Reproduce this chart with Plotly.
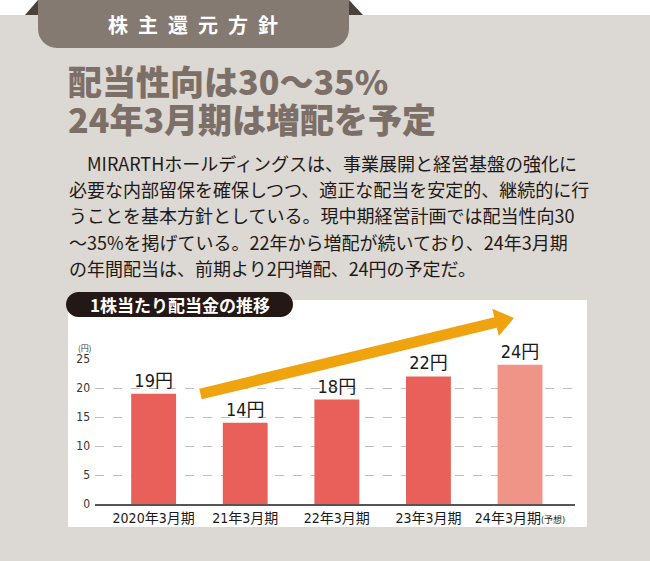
import math
import plotly.graph_objects as go

# data
categories = ["2020年3月期", "21年3月期", "22年3月期", "23年3月期", "24年3月期"]
forecast_note = "(予想)"
dividends = [19, 14, 18, 22, 24]
bar_labels = ["19円", "14円", "18円", "22円", "24円"]
y_ticks = [0, 5, 10, 15, 20, 25]

tab_title = "\u2002".join("株主還元方針")
title_lines = ["配当性向は30〜35%", "24年3月期は増配を予定"]
body_lines = [
    "\u3000MIRARTHホールディングスは、事業展開と経営基盤の強化に",
    "必要な内部留保を確保しつつ、適正な配当を安定的、継続的に行",
    "うことを基本方針としている。現中期経営計画では配当性向30",
    "〜35%を掲げている。22年から増配が続いており、24年3月期",
    "の年間配当は、前期より2円増配、24円の予定だ。",
]
chart_title = "1株当たり配当金の推移"

W, H = 650, 561
JP = "Noto Sans CJK JP"
NARROW = "DejaVu Sans Condensed, Noto Sans CJK JP"


def px(x):
    return x / W


def py(y):
    return 1 - y / H


def path(points):
    s = "M " + " L ".join(f"{px(x):.5f},{py(y):.5f}" for x, y in points)
    return s + " Z"


def rounded(x0, y0, x1, y1, r, corners=(1, 1, 1, 1)):
    # corners: top-left, top-right, bottom-right, bottom-left
    k = 0.5523 * r
    tl, tr, br, bl = [r if c else 0 for c in corners]
    P = lambda x, y: f"{px(x):.5f},{py(y):.5f}"
    s = f"M {P(x0 + tl, y0)} L {P(x1 - tr, y0)}"
    if tr:
        s += f" C {P(x1 - tr + k, y0)} {P(x1, y0 + tr - k)} {P(x1, y0 + tr)}"
    s += f" L {P(x1, y1 - br)}"
    if br:
        s += f" C {P(x1, y1 - br + k)} {P(x1 - br + k, y1)} {P(x1 - br, y1)}"
    s += f" L {P(x0 + bl, y1)}"
    if bl:
        s += f" C {P(x0 + bl - k, y1)} {P(x0, y1 - bl + k)} {P(x0, y1 - bl)}"
    s += f" L {P(x0, y0 + tl)}"
    if tl:
        s += f" C {P(x0, y0 + tl - k)} {P(x0 + tl - k, y0)} {P(x0 + tl, y0)}"
    return s + " Z"


colors = ["#e95f59"] * 4 + ["#ef9487"]
ticktext = categories[:-1] + [categories[-1] + f"<span style='font-size:9px'>{forecast_note}</span>"]

fig = go.Figure(go.Bar(
    x=list(range(len(categories))), y=dividends,
    width=0.49, marker=dict(color=colors, line_width=0),
    text=bar_labels, textposition="outside", cliponaxis=False,
    textfont=dict(family=NARROW, size=18, color="#1a1a1a"),
    hoverinfo="skip",
))

# arrow polygon
sx, sy, tx, ty = 200.5, 394, 514, 318
L = math.hypot(tx - sx, ty - sy)
dx, dy = (tx - sx) / L, (ty - sy) / L
nx, ny = -dy, dx
hl, hh, hw = 19, 14, 5.5
bx, by = tx - hl * dx, ty - hl * dy
arrow = [
    (sx + nx * hw, sy + ny * hw), (bx + nx * hw, by + ny * hw), (bx + nx * hh, by + ny * hh),
    (tx, ty),
    (bx - nx * hh, by - ny * hh), (bx - nx * hw, by - ny * hw), (sx - nx * hw, sy - ny * hw),
]

shapes = [
    dict(type="rect", xref="paper", yref="paper", x0=0, x1=1, y0=0, y1=py(15),
         fillcolor="#dcd8d3", line_width=0, layer="below"),
    dict(type="path", xref="paper", yref="paper", path=path([(25, 15), (38, 0), (38, 15)]),
         fillcolor="#4b413c", line_width=0, layer="below"),
    dict(type="path", xref="paper", yref="paper", path=path([(349, 0), (363, 15), (349, 15)]),
         fillcolor="#4b413c", line_width=0, layer="below"),
    dict(type="path", xref="paper", yref="paper", path=rounded(38, 0, 349, 48, 19, (0, 0, 1, 1)),
         fillcolor="#857a72", line_width=0, layer="below"),
    dict(type="rect", xref="paper", yref="paper", x0=px(68), x1=px(587), y0=py(527), y1=py(300),
         fillcolor="white", line_width=0, layer="below"),
    dict(type="path", xref="paper", yref="paper", path=rounded(66, 292, 293, 317, 12.5),
         fillcolor="#231815", line_width=0, layer="below"),
    dict(type="path", xref="paper", yref="paper", path=path(arrow),
         fillcolor="#efa30f", line_width=0, layer="above"),
]

# two title lines in one block: base font sets the line pitch, spans set glyph size
title_text = "<br>".join(f"<span style='font-size:34px'>{t}</span>" for t in title_lines)

annotations = [
    dict(text=tab_title, x=px(193), y=py(25), font=dict(family=JP, size=20, color="white", weight=700)),
    dict(text="(円)", x=px(84), y=py(347), font=dict(family=JP, size=8, color="#333")),
    dict(text=title_text, x=px(66), y=py(99), xanchor="left", align="left",
         font=dict(family=JP, size=29.3, color="#7b6f67", weight=900)),
]
for i, t in enumerate(body_lines):
    annotations.append(dict(text=t, x=px(67), y=py(163 + 26.2 * i), xanchor="left",
                            font=dict(family=JP, size=18, color="#231815")))
annotations.append(dict(text=chart_title, x=px(88), y=py(304), xanchor="left",
                        font=dict(family=JP, size=17, color="white", weight=700)))
for a in annotations:
    a.setdefault("xanchor", "center")
    a.update(xref="paper", yref="paper", yanchor="middle", showarrow=False)

fig.update_layout(
    width=W, height=H, autosize=False,
    margin=dict(l=0, r=0, t=0, b=0, pad=0, autoexpand=False),
    paper_bgcolor="white", plot_bgcolor="rgba(0,0,0,0)",
    showlegend=False, shapes=shapes, annotations=annotations,
    xaxis=dict(domain=[px(95), px(575)], range=[-0.64, 4.6], automargin=False,
               tickmode="array", tickvals=list(range(len(categories))), ticktext=ticktext,
               tickfont=dict(family=NARROW, size=14, color="#1a1a1a"),
               showline=True, linecolor="#555", linewidth=1.5, showgrid=False,
               ticks="", fixedrange=True),
    yaxis=dict(domain=[py(504), py(359)], range=[0, 25], automargin=False,
               tickmode="array", tickvals=y_ticks,
               tickfont=dict(family=NARROW, size=12, color="#333"),
               showgrid=True, gridcolor="#bdbdbd", griddash="dash", gridwidth=1,
               zeroline=False, showline=False, ticks="", ticklabelstandoff=4,
               fixedrange=True),
)

# the page body has a default 8px margin; drop it so the figure sits at 0,0
fig.write_html("out.html", config={"displayModeBar": False},
               post_script="document.body.style.margin='0';")
